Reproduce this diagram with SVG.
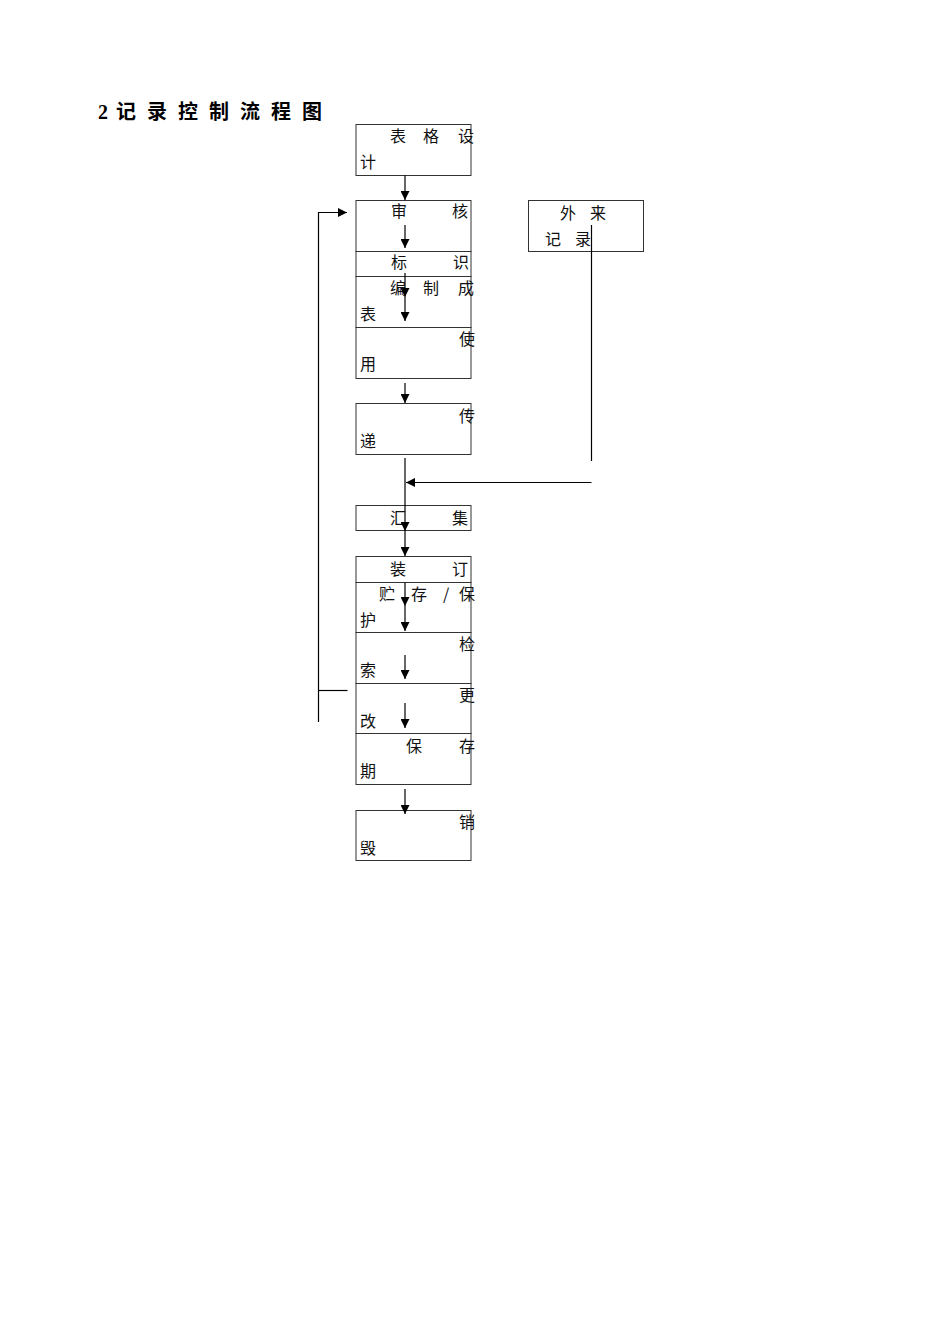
<svg xmlns="http://www.w3.org/2000/svg" width="950" height="1344" viewBox="0 0 950 1344">
<style>
.bx{fill:none;stroke:#333;stroke-width:1}
.t{font-family:"Noto Sans CJK SC","Noto Sans",sans-serif;font-size:16px;fill:#111}
.ttl{font-family:"Liberation Serif","Noto Sans CJK SC",serif;font-size:20px;font-weight:bold;fill:#000}
.ln{fill:none;stroke:#000;stroke-width:1.2}
.ar{marker-end:url(#ah)}
</style>
<defs>
<marker id="ah" markerWidth="10" markerHeight="9" refX="9" refY="4.5" orient="auto" markerUnits="userSpaceOnUse">
<path d="M0,0 L9,4.5 L0,9 z" fill="#000"/>
</marker>
</defs>
<rect width="950" height="1344" fill="#fff"/>
<text class="ttl" x="98 116 147 178 209 240 271 302" y="119">2记录控制流程图</text>

<g id="n-biaogesheji">
<rect class="bx" x="356" y="124.5" width="115" height="51"/>
<text class="t"><tspan x="390 423 458" y="142">表格设</tspan><tspan x="360" y="168">计</tspan></text>
</g>
<g id="n-shenhe">
<rect class="bx" x="356" y="200.5" width="115" height="51"/>
<text class="t"><tspan x="391 452" y="217">审核</tspan></text>
</g>
<g id="n-biaoshi">
<rect class="bx" x="356" y="251.5" width="115" height="25"/>
<text class="t"><tspan x="391 453" y="268">标识</tspan></text>
</g>
<g id="n-bianzhichengbiao">
<rect class="bx" x="356" y="276.5" width="115" height="51"/>
<text class="t"><tspan x="390 423 458" y="294">编制成</tspan><tspan x="360" y="320">表</tspan></text>
</g>
<g id="n-shiyong">
<rect class="bx" x="356" y="327.5" width="115" height="51"/>
<text class="t"><tspan x="459" y="345">使</tspan><tspan x="360" y="370">用</tspan></text>
</g>
<g id="n-wailaijilu">
<rect class="bx" x="528.5" y="200.5" width="115" height="51"/>
<text class="t"><tspan x="560 590" y="219">外来</tspan><tspan x="545 575" y="245">记录</tspan></text>
</g>
<g id="n-chuandi">
<rect class="bx" x="356" y="403.5" width="115" height="51"/>
<text class="t"><tspan x="459" y="422">传</tspan><tspan x="360" y="447">递</tspan></text>
</g>
<g id="n-huiji">
<rect class="bx" x="356" y="505.5" width="115" height="25"/>
<text class="t"><tspan x="390 452" y="524">汇集</tspan></text>
</g>
<g id="n-zhuangding">
<rect class="bx" x="356" y="556.5" width="115" height="26"/>
<text class="t"><tspan x="390 452" y="575">装订</tspan></text>
</g>
<g id="n-zhucun">
<rect class="bx" x="356" y="582.5" width="115" height="50"/>
<text class="t"><tspan x="379 411 443 459" y="600">贮存/保</tspan><tspan x="360" y="626">护</tspan></text>
</g>
<g id="n-jiansuo">
<rect class="bx" x="356" y="632.5" width="115" height="51"/>
<text class="t"><tspan x="459" y="650">检</tspan><tspan x="360" y="676">索</tspan></text>
</g>
<g id="n-genggai">
<rect class="bx" x="356" y="683.5" width="115" height="50"/>
<text class="t"><tspan x="459" y="701">更</tspan><tspan x="360" y="727">改</tspan></text>
</g>
<g id="n-baocunqi">
<rect class="bx" x="356" y="733.5" width="115" height="51"/>
<text class="t"><tspan x="406 459" y="752">保存</tspan><tspan x="360" y="777">期</tspan></text>
</g>
<g id="n-xiaohui">
<rect class="bx" x="356" y="810.5" width="115" height="50"/>
<text class="t"><tspan x="459" y="828">销</tspan><tspan x="360" y="854">毁</tspan></text>
</g>

<g id="connectors">
<path class="ln ar" d="M405,175.5 V200"/>
<path class="ln ar" d="M405,225 V248"/>
<path class="ln ar" d="M405,273 V297"/>
<path class="ln ar" d="M405,297 V321"/>
<path class="ln ar" d="M405,383 V403"/>
<path class="ln ar" d="M405,458 V531"/>
<path class="ln ar" d="M405,531 V556"/>
<path class="ln" d="M591.5,225 V461"/>
<path class="ln ar" d="M591.5,482.5 H406"/>
<path class="ln ar" d="M405,582.5 V606"/>
<path class="ln ar" d="M405,606 V631"/>
<path class="ln ar" d="M405,655 V679"/>
<path class="ln ar" d="M405,703 V728"/>
<path class="ln ar" d="M405,789 V814"/>
<path class="ln ar" d="M318.5,722 V212.5 H347"/>
<path class="ln" d="M318.5,690.5 H347.5"/>
</g>
</svg>
